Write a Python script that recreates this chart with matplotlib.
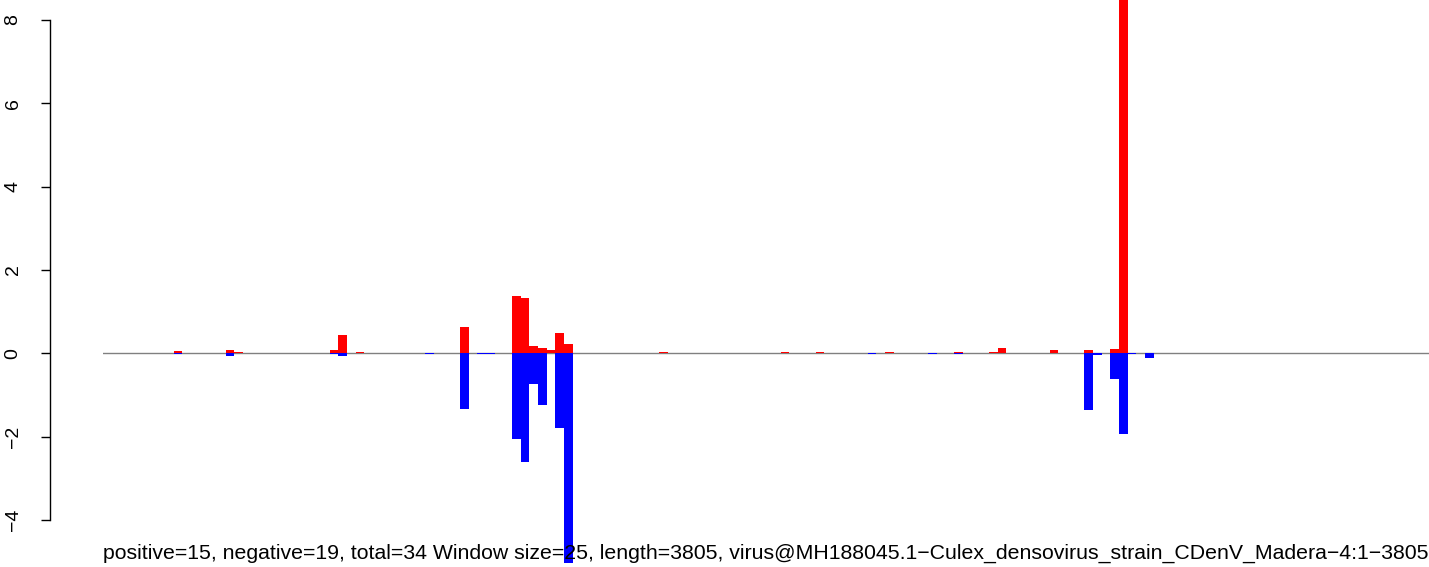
import matplotlib
matplotlib.use("Agg")
import matplotlib.pyplot as plt

plt.rcParams['font.family'] = ['Liberation Sans', 'DejaVu Sans']

# window index (0-based, window size 25) and values
pos_idx = [8, 14, 15, 26, 27, 29, 41, 47, 48, 49, 50, 51, 52, 53, 64, 78, 82, 90,
           98, 102, 103, 109, 113, 116, 117]
pos_val = [0.05, 0.08, 0.03, 0.08, 0.44, 0.03, 0.63, 1.37, 1.33, 0.17, 0.13, 0.08, 0.49, 0.22,
           0.03, 0.02, 0.02, 0.03, 0.03, 0.02, 0.12, 0.07, 0.07, 0.10, 9.6]
neg_idx = [8, 14, 26, 27, 37, 41, 43, 44, 47, 48, 49, 50, 52, 53, 88, 95, 98,
           113, 114, 116, 117, 118, 120]
neg_val = [-0.02, -0.07, -0.02, -0.07, -0.02, -1.34, -0.02, -0.02, -2.05, -2.60, -0.74, -1.23,
           -1.78, -5.02, -0.02, -0.02, -0.02, -1.36, -0.04, -0.62, -1.94, -0.02, -0.12]
yticks = [-4, -2, 0, 2, 4, 6, 8]
caption = ("positive=15, negative=19, total=34 Window size=25, length=3805, "
           "virus@MH188045.1\u2212Culex_densovirus_strain_CDenV_Madera\u22124:1\u22123805")

W, H = 1429, 567
fig = plt.figure(figsize=(W / 100, H / 100), dpi=100)
left_px = 103.3
bar_px = 8.675
ax = fig.add_axes([left_px / W, 0, 1 - left_px / W, 1])
ax.set_xlim(-0.1, (W - left_px) / bar_px - 0.1)
zero_px = 353.3
unit_px = 41.7
ax.set_ylim(-(H - zero_px) / unit_px, zero_px / unit_px)

ax.axhline(0, color='#808080', lw=1.0, zorder=1)
ax.bar(pos_idx, pos_val, width=1.0, align='edge', color='#ff0000', linewidth=0, zorder=2)
ax.bar(neg_idx, neg_val, width=1.0, align='edge', color='#0000ff', linewidth=0, zorder=2)

for s in ['top', 'right', 'bottom']:
    ax.spines[s].set_visible(False)
ax.spines['left'].set_position(('outward', (left_px - 50) * 0.72))
ax.spines['left'].set_bounds(-4, 8)
ax.spines['left'].set_linewidth(1.0)
ax.set_yticks(yticks)
ax.set_yticklabels([str(t).replace('-', '\u2212') for t in yticks], rotation=90, va='center')
ax.tick_params(axis='y', length=6.5, width=1.0, pad=14, labelsize=14)
ax.set_xticks([])

fig.text(left_px / W, 1 - 553 / H, caption, fontsize=15.3, ha='left', va='center', zorder=5)

fig.savefig('out.png', dpi=100)
